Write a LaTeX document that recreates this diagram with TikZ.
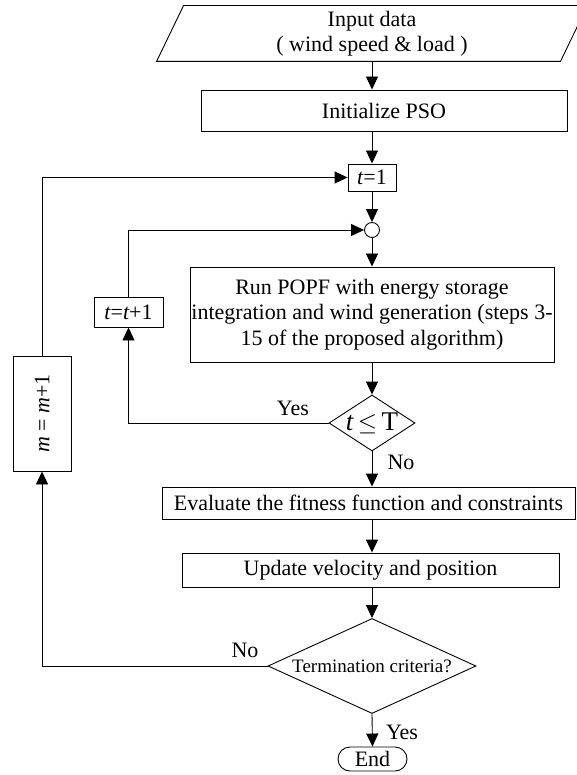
\documentclass[tikz,border=0pt]{standalone}
\usepackage{fontspec}
\usepackage{graphicx}
\setmainfont{Liberation Serif}
\usetikzlibrary{arrows.meta,shapes.geometric,shapes.misc,calc}
\begin{document}
\begin{tikzpicture}[x=1pt,y=-1pt,
  line width=0.9pt,
  txt/.style={font=\fontsize{22}{25.5}\selectfont},
  box/.style={draw, txt, inner sep=0pt, align=center},
  dec/.style={draw, diamond, inner sep=0pt},
  arr/.style={-{Triangle[length=13pt,width=12pt]}},
  lbl/.style={txt, inner sep=0pt}]
\useasboundingbox (0,0) rectangle (576,775);

% input parallelogram (outline drawn from the node's corners)
\node[txt, inner sep=0pt, align=center, minimum width=403, minimum height=55] (in) at (372,33.5)
  {Input data\\( wind speed \& load )};
\draw ([xshift=-13.5pt]in.south west) -- ([xshift=13.5pt]in.north west)
   -- ([xshift=13.5pt]in.north east) -- ([xshift=-13.5pt]in.south east) -- cycle;

% main column
\node[box, minimum width=366, minimum height=41] (init) at (384,110.5) {Initialize PSO};
\node[box, minimum width=48, minimum height=27] (t1) at (372,177.5) {{\itshape t}=1};
\node[draw, circle, minimum size=15, inner sep=0pt] (c) at (372,230) {};
\node[box, minimum width=364, minimum height=95] (popf) at (372,314.5)
  {Run POPF with energy storage\\integration and wind generation (steps 3-\\15 of the proposed algorithm)};
\node[dec, aspect=1.54, minimum width=86, minimum height=56,
      font=\fontsize{27}{30}\selectfont] (d1) at (372,423) {{\itshape t}\,$\leq$\,T};
\node[box, minimum width=413, minimum height=32] (eval) at (368.5,503)
  {Evaluate the fitness function and constraints};
\node[box, minimum width=377, minimum height=34] (upd) at (370.5,570)
  {Update velocity and position};
\node[dec, aspect=2.19, minimum width=208, minimum height=95,
      font=\fontsize{19}{22}\selectfont] (d2) at (372,666) {Termination criteria?};
\node[draw, rounded rectangle, txt, inner sep=0pt, minimum width=69, minimum height=24] (end) at (372.5,759) {End};

% loop counters
\node[box, minimum width=69, minimum height=30] (tt) at (128.5,312) {{\itshape t}={\itshape t}+1};
\node[box, minimum width=58, minimum height=115] (mm) at (42,413.5)
  {\rotatebox{90}{{\itshape m} = {\itshape m}+1}};

% forward flow
\draw[arr] (in.south) -- (in.south |- init.north);
\draw[arr] (t1.north |- init.south) -- (t1.north);
\draw[arr] (t1.south) -- (c.north);
\draw[arr] (c.south) -- (popf.north);
\draw[arr] (popf.south) -- (d1.north);
\draw[arr] (d1.south) -- (d1.south |- eval.north);
\draw[arr] (d1.south |- eval.south) -- (d1.south |- upd.north);
\draw[arr] (d1.south |- upd.south) -- (d2.north);
\draw[arr] (d2.south) -- (end.north);

% feedback loops
\draw[arr] (d1.west) -| (tt.south);
\draw[arr] (tt.north) |- (c.west);
\draw[arr] (d2.west) -| (mm.south);
\draw[arr] (mm.north) |- (t1.west);

% branch labels
\node[lbl] (y1) at (293,408) {Yes};
\node[lbl] (n1) at (401,462) {No};
\node[lbl] (n2) at (245,650) {No};
\node[lbl] (y2) at (402,732) {Yes};
\end{tikzpicture}
\end{document}
